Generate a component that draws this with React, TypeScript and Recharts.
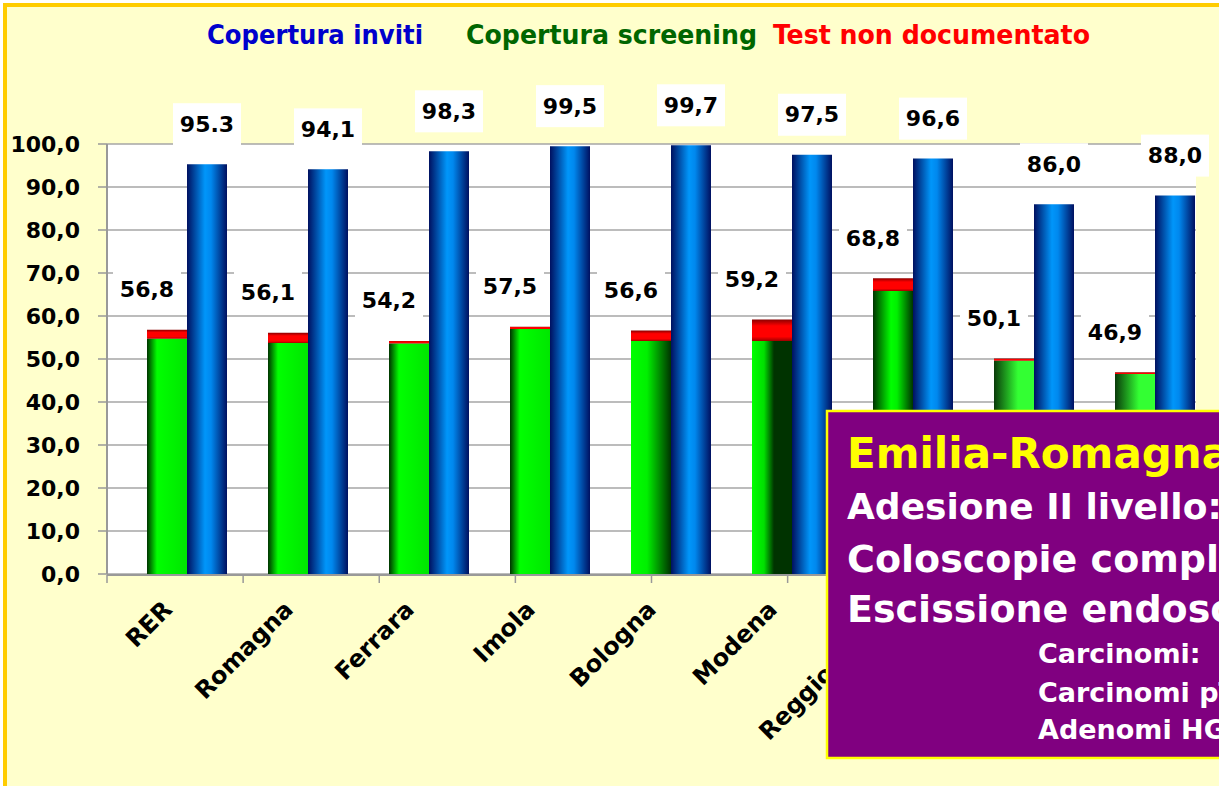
import { BarChart, Bar, XAxis, YAxis, CartesianGrid, LabelList, Cell } from "recharts";

// Aziende / territori
const aziende = ["RER", "Romagna", "Ferrara", "Imola", "Bologna", "Modena", "Reggio Emilia", "Parma", "Piacenza"];

// Copertura inviti (blue bars)
const copInviti = [95.3, 94.1, 98.3, 99.5, 99.7, 97.5, 96.6, 86.0, 88.0];
const copInvitiLabels = ["95.3", "94,1", "98,3", "99,5", "99,7", "97,5", "96,6", "86,0", "88,0"];

// Copertura screening totale (label on top of the stack)
const copScreening = [56.8, 56.1, 54.2, 57.5, 56.6, 59.2, 68.8, 50.1, 46.9];
// green part (documented)
const screeningDoc = [54.7, 53.7, 53.6, 57.0, 54.2, 54.2, 65.8, 49.6, 46.5];

const yTicks = [0, 10, 20, 30, 40, 50, 60, 70, 80, 90, 100];

const data = aziende.map((name, i) => ({
  name,
  screening: screeningDoc[i],
  nonDoc: +(copScreening[i] - screeningDoc[i]).toFixed(1),
  totaleLabel: copScreening[i].toFixed(1).replace(".", ","),
  inviti: copInviti[i],
  invitiLabel: copInvitiLabels[i],
}));

// one tick mark on every bar edge
const edgeTicks = Array.from({ length: aziende.length * 3 + 1 }, (_, i) => i);

const greenFills = ["gGreenA", "gGreenA", "gGreenA", "gGreenA", "gGreenB", "gGreenC", "gGreenD", "gGreenE", "gGreenE"];

const FONT = "'DejaVu Sans', Verdana, sans-serif";

const boxLabel = (dx: number) => (props: any) => {
  const vb = props.viewBox ?? props;
  const x = Number(vb.x);
  const y = Number(vb.y);
  const w = Number(vb.width);
  const cx = x + w / 2 + dx;
  const cy = y - 40;
  return (
    <g>
      <rect x={cx - 34} y={cy - 21} width={68} height={42} fill="#ffffff" />
      <text x={cx} y={cy} textAnchor="middle" dominantBaseline="central" fontFamily={FONT} fontWeight="bold" fontSize={22} fill="#000">
        {props.value}
      </text>
    </g>
  );
};

const AziendaTick = (props: any) => {
  const { x, y, payload } = props;
  const tx = Number(x) + 6;
  const ty = Number(y) + 37;
  return (
    <text x={tx} y={ty} transform={`rotate(-45 ${tx} ${ty})`} textAnchor="end" fontFamily={FONT} fontWeight="bold" fontSize={24} fill="#000">
      {payload.value}
    </text>
  );
};

const NoLabel = () => <g />;

export default function App() {
  return (
    <div style={{ position: "absolute", left: 0, top: 0, width: 1219, height: 786, overflow: "hidden", background: "#ffffff" }}>
      <div
        style={{
          position: "absolute",
          left: 3,
          top: 3,
          width: 1400,
          height: 1000,
          background: "#FFFFCC",
          borderLeft: "4px solid #FFCC00",
          borderTop: "4px solid #FFCC00",
        }}
      />
      <div style={{ position: "absolute", left: 0, top: 0 }}>
        <BarChart width={1219} height={786} data={data} margin={{ top: 144, right: 23, bottom: 210, left: 7 }} barCategoryGap={0} barGap={0}>
          <defs>
            <linearGradient id="gBlue" x1="0" y1="0" x2="1" y2="0">
              <stop offset="0%" stopColor="#001060" />
              <stop offset="45%" stopColor="#0096FA" />
              <stop offset="60%" stopColor="#0088EE" />
              <stop offset="100%" stopColor="#001060" />
            </linearGradient>
            <linearGradient id="gRed" x1="0" y1="0" x2="0" y2="1">
              <stop offset="0%" stopColor="#8A0000" />
              <stop offset="30%" stopColor="#FF0000" />
              <stop offset="80%" stopColor="#FF0000" />
              <stop offset="100%" stopColor="#A00000" />
            </linearGradient>
            <linearGradient id="gGreenA" x1="0" y1="0" x2="1" y2="0">
              <stop offset="0%" stopColor="#003300" />
              <stop offset="25%" stopColor="#00FF00" />
              <stop offset="100%" stopColor="#00E600" />
            </linearGradient>
            <linearGradient id="gGreenB" x1="0" y1="0" x2="1" y2="0">
              <stop offset="0%" stopColor="#00FF00" />
              <stop offset="40%" stopColor="#00F000" />
              <stop offset="100%" stopColor="#003300" />
            </linearGradient>
            <linearGradient id="gGreenC" x1="0" y1="0" x2="1" y2="0">
              <stop offset="0%" stopColor="#00FF00" />
              <stop offset="30%" stopColor="#00E000" />
              <stop offset="55%" stopColor="#003300" />
              <stop offset="100%" stopColor="#003300" />
            </linearGradient>
            <linearGradient id="gGreenD" x1="0" y1="0" x2="1" y2="0">
              <stop offset="0%" stopColor="#003300" />
              <stop offset="45%" stopColor="#00FF00" />
              <stop offset="60%" stopColor="#00F000" />
              <stop offset="100%" stopColor="#003300" />
            </linearGradient>
            <linearGradient id="gGreenE" x1="0" y1="0" x2="1" y2="0">
              <stop offset="0%" stopColor="#0A3A0A" />
              <stop offset="60%" stopColor="#33FF33" />
              <stop offset="100%" stopColor="#33FF33" />
            </linearGradient>
          </defs>
          <CartesianGrid vertical={false} stroke="#A6A6A6" strokeWidth={1.5} fill="#ffffff" />
          <XAxis
            xAxisId="edges"
            type="number"
            domain={[0, aziende.length * 3]}
            ticks={edgeTicks}
            interval={0}
            tick={<NoLabel />}
            tickSize={8}
            tickLine={{ stroke: "#999999", strokeWidth: 1.5 }}
            axisLine={{ stroke: "#999999", strokeWidth: 2 }}
            height={1}
          />
          <XAxis dataKey="name" height={1} axisLine={false} tickLine={false} tickSize={0} tickMargin={0} interval={0} tick={<AziendaTick />} />
          <YAxis
            domain={[0, 100]}
            ticks={yTicks}
            width={100}
            tickSize={9}
            tickMargin={18}
            tickLine={{ stroke: "#999999", strokeWidth: 1.5 }}
            axisLine={{ stroke: "#999999", strokeWidth: 2 }}
            tickFormatter={(v: number) => v.toFixed(1).replace(".", ",")}
            tick={{ fontFamily: FONT, fontWeight: "bold", fontSize: 22, fill: "#000" }}
          />
          <Bar dataKey="spacer" stackId="a" fill="none" isAnimationActive={false} />
          <Bar dataKey="screening" stackId="b" isAnimationActive={false}>
            {data.map((_d, i) => (
              <Cell key={`g-${i}`} fill={`url(#${greenFills[i]})`} />
            ))}
          </Bar>
          <Bar dataKey="nonDoc" stackId="b" fill="url(#gRed)" isAnimationActive={false}>
            <LabelList dataKey="totaleLabel" content={boxLabel(-20)} />
          </Bar>
          <Bar dataKey="inviti" stackId="c" fill="url(#gBlue)" isAnimationActive={false}>
            <LabelList dataKey="invitiLabel" content={boxLabel(0)} />
          </Bar>
        </BarChart>
      </div>
      <svg width={1219} height={786} style={{ position: "absolute", left: 0, top: 0, pointerEvents: "none" }}>
        <g fontFamily="'DejaVu Sans Condensed', 'DejaVu Sans', sans-serif" fontWeight="bold" fontSize={26}>
          <text x={207} y={44} fill="#0000CC" textLength={216} lengthAdjust="spacingAndGlyphs">Copertura inviti</text>
          <text x={466} y={44} fill="#006600" textLength={291} lengthAdjust="spacingAndGlyphs">Copertura screening</text>
          <text x={773} y={44} fill="#FF0000" textLength={317} lengthAdjust="spacingAndGlyphs">Test non documentato</text>
        </g>
        <rect x={827} y={411} width={440} height={347} fill="#800080" stroke="#FFFF00" strokeWidth={2.5} />
        <g fontFamily={FONT} fontWeight="bold">
          <text x={847} y={468} fill="#FFFF00" fontSize={42}>Emilia-Romagna</text>
          <text x={847} y={519} fill="#ffffff" fontSize={36}>Adesione II livello:</text>
          <text x={847} y={572} fill="#ffffff" fontSize={38}>Coloscopie complete:</text>
          <text x={847} y={622} fill="#ffffff" fontSize={38}>Escissione endoscopica:</text>
          <text x={1038} y={663} fill="#ffffff" fontSize={27}>Carcinomi:</text>
          <text x={1038} y={702} fill="#ffffff" fontSize={27}>Carcinomi pT1:</text>
          <text x={1038} y={739} fill="#ffffff" fontSize={27}>Adenomi HGD:</text>
        </g>
      </svg>
    </div>
  );
}
